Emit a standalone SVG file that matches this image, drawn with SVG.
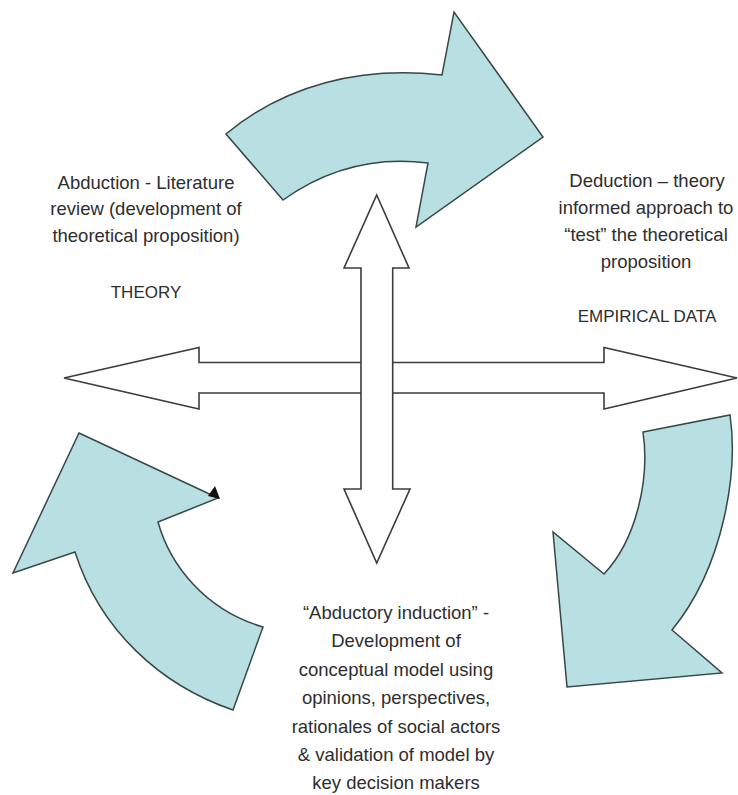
<svg xmlns="http://www.w3.org/2000/svg" width="738" height="795" viewBox="0 0 738 795">
  <style>
    .cycle { fill: #b8dfe2; stroke: #374747; stroke-width: 1.5; stroke-linejoin: miter; }
    .axis { fill: #ffffff; stroke: #3c3c3c; stroke-width: 1.6; stroke-linejoin: miter; }
    .lbl { font-family: "Liberation Sans", Arial, sans-serif; font-size: 18.5px; fill: #2e2e2e; text-anchor: middle; }
    .cap { font-size: 17px; }
  </style>
  <rect width="738" height="795" fill="#ffffff"/>

  <!-- cycle of curved arrows and the two axes -->
  <g id="connectors">
    <!-- top: theory to empirical data -->
    <path class="cycle" d="M226,134 C285,85 360,66 442,75 L454,12 L543,137 L416,227 L428,163 C365,155 318,175 283,200 Z"/>
    <!-- right: empirical data down to the model -->
    <path class="cycle" d="M643,432 L730,415 C738,470 725,565 672,630 L722,673 L567,687 L553,532 L604,574 C636,540 650,480 643,432 Z"/>
    <!-- left: model back up to theory -->
    <path class="cycle" d="M79,433 L218,498 L158,522 C170,565 205,610 263,627 L233,710 C160,685 100,630 75,552 L13,573 Z"/>
    <polygon points="215,486 220,499 208,496" fill="#111111"/>

    <!-- horizontal double arrow -->
    <path class="axis" d="M64,378 L199,347.5 L199,362.5 L604,362.5 L604,347.5 L737,378 L604,409 L604,393 L199,393 L199,409 Z"/>
    <!-- vertical double arrow, drawn over the horizontal one -->
    <path class="axis" d="M376.7,195 L409,268 L392.7,268 L392.7,489 L410,489 L376.7,563 L344,489 L361,489 L361,268 L344,268 Z"/>
  </g>

  <g id="abduction">
    <text class="lbl" x="146" y="189">Abduction - Literature</text>
    <text class="lbl" x="146" y="215">review (development of</text>
    <text class="lbl" x="146" y="242">theoretical proposition)</text>
  </g>

  <g id="theory">
    <text class="lbl cap" x="146" y="298">THEORY</text>
  </g>

  <g id="deduction">
    <text class="lbl" x="647" y="187">Deduction – theory</text>
    <text class="lbl" x="646" y="214">informed approach to</text>
    <text class="lbl" x="646" y="241">“test” the theoretical</text>
    <text class="lbl" x="646" y="268">proposition</text>
  </g>

  <g id="empirical-data">
    <text class="lbl cap" x="647" y="322">EMPIRICAL DATA</text>
  </g>

  <g id="abductory-induction">
    <text class="lbl" x="396" y="619">“Abductory induction” -</text>
    <text class="lbl" x="396" y="647">Development of</text>
    <text class="lbl" x="396" y="676">conceptual model using</text>
    <text class="lbl" x="396" y="704">opinions, perspectives,</text>
    <text class="lbl" x="396" y="733">rationales of social actors</text>
    <text class="lbl" x="396" y="761">&amp; validation of model by</text>
    <text class="lbl" x="396" y="789">key decision makers</text>
  </g>
</svg>
